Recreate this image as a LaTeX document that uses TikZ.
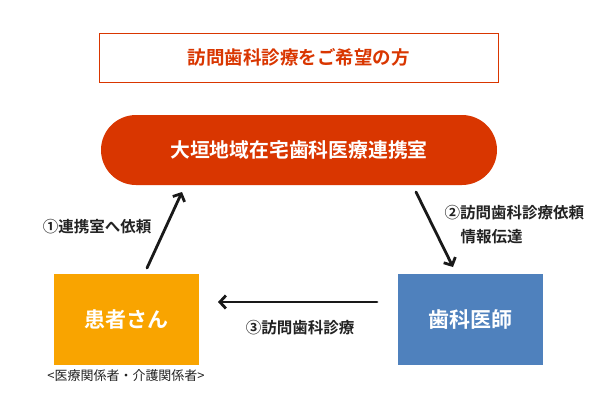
\documentclass[tikz,border=0pt]{standalone}
\usepackage{fontspec}
\setmainfont{Noto Sans CJK JP}[BoldFont={* Bold}]
\newfontfamily\jpb{Noto Sans CJK JP Bold}
\usetikzlibrary{arrows.meta}
\definecolor{tred}{HTML}{D93600}
\definecolor{torange}{HTML}{F9A400}
\definecolor{tblue}{HTML}{4F81BD}
\definecolor{ttext}{HTML}{222222}
\tikzset{
  boxtxt/.style={font=\jpb\fontsize{21}{24}\selectfont, text=white},
  lbl/.style={font=\jpb\fontsize{15.5}{18}\selectfont, text=ttext, align=left},
  conn/.style={line width=2.8pt, draw=black!90, line cap=round, -{Straight Barb[length=6pt,width=13pt,line width=2.8pt]}},
}
\begin{document}
\begin{tikzpicture}[x=1pt,y=-1pt]
\useasboundingbox (0,0) rectangle (600,400);
\fill[white] (0,0) rectangle (600,400);
\node[draw=tred, line width=1pt, minimum width=399pt, minimum height=49pt, inner sep=0pt,
  font=\jpb\fontsize{18.5}{22}\selectfont, text=tred] (title) at (298.5,57.5) {訪問歯科診療をご希望の方};
\node[fill=tred, rounded corners=35pt, minimum width=396pt, minimum height=70pt, inner sep=0pt,
  boxtxt, font=\jpb\fontsize{19.8}{22}\selectfont] (center) at (299,150) {大垣地域在宅歯科医療連携室};
\node[fill=torange, minimum width=145pt, minimum height=91pt, inner sep=0pt, boxtxt] (patient) at (126.5,319.5) {患者さん};
\node[fill=tblue, minimum width=145pt, minimum height=91pt, inner sep=0pt, boxtxt] (dentist) at (470.5,319.5) {歯科医師};
\node[font=\fontsize{13}{15}\selectfont, text=ttext, anchor=north] (cap) at (126,366) {<医療関係者・介護関係者>};
\coordinate (a1s) at (147,268);
\coordinate (a1e) at (182,192);
\coordinate (a2s) at (416,192);
\coordinate (a2e) at (453,267);
\coordinate (a3s) at (377,302);
\coordinate (a3e) at (218,302);
\draw[conn] (a1s) -- (a1e);
\draw[conn] (a2s) -- (a2e);
\draw[conn] (a3s) -- (a3e);
\node[lbl] (l1) at (97,227) {①連携室へ依頼};
\node[lbl, anchor=west] (l2) at (441,213) {②訪問歯科診療依頼};
\node[lbl, anchor=west] (l2b) at (457,237) {情報伝達};
\node[lbl] (l3) at (300,328) {③訪問歯科診療};
\end{tikzpicture}
\end{document}
